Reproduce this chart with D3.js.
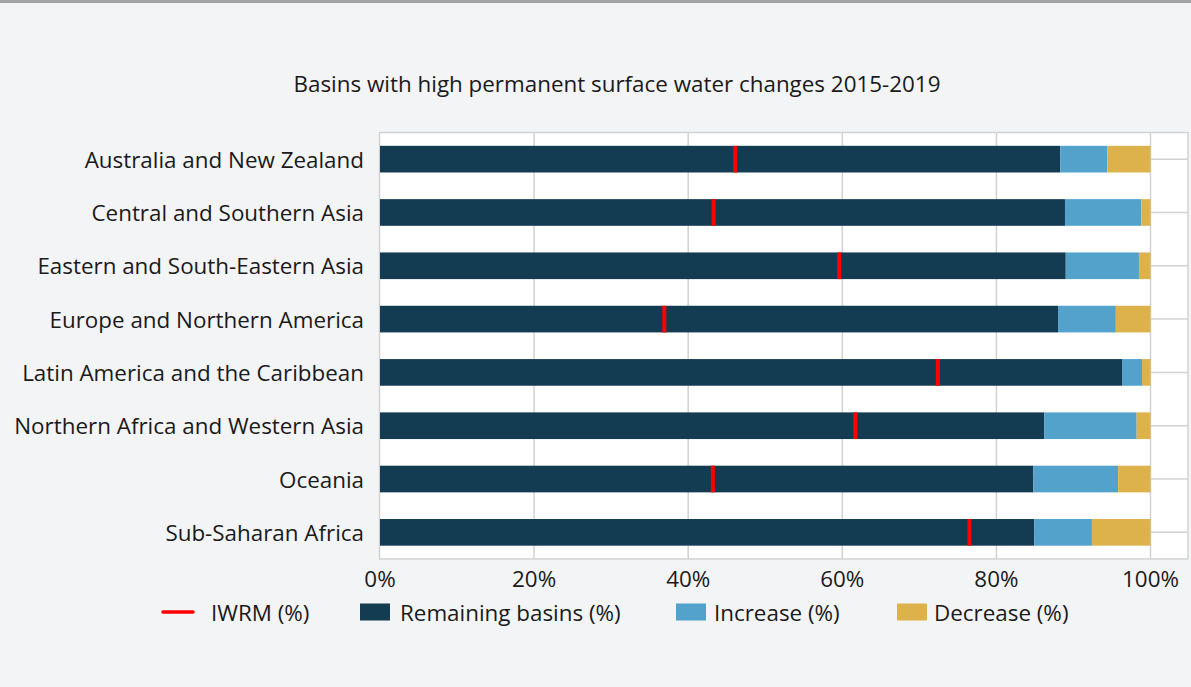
<!DOCTYPE html>
<html>
<head>
<meta charset="utf-8">
<script src="https://cdn.jsdelivr.net/npm/d3@7"></script>
<style>
  html, body { margin: 0; padding: 0; background: #f3f4f6; }
  svg { display: block; }
  text { font-family: "Open Sans", "Noto Sans", sans-serif; fill: #1a1a1a; }
</style>
</head>
<body>
<script>
const categories = [
  "Australia and New Zealand",
  "Central and Southern Asia",
  "Eastern and South-Eastern Asia",
  "Europe and Northern America",
  "Latin America and the Caribbean",
  "Northern Africa and Western Asia",
  "Oceania",
  "Sub-Saharan Africa"
];
const remaining = [88.3, 88.9, 89.0, 88.0, 96.3, 86.2, 84.8, 84.9];
const increase  = [6.1, 9.9, 9.5, 7.5, 2.6, 12.0, 11.0, 7.5];
const decrease  = [5.6, 1.2, 1.5, 4.5, 1.1, 1.8, 4.2, 7.6];
const iwrm      = [46.1, 43.3, 59.6, 36.9, 72.4, 61.7, 43.2, 76.5];
const xTicks    = [0, 20, 40, 60, 80, 100];
const tickLabels = ["0%", "20%", "40%", "60%", "80%", "100%"];
const seriesNames = ["Remaining basins (%)", "Increase (%)", "Decrease (%)"];
const seriesKeys = ["remaining", "increase", "decrease"];
const colors = ["#133b51", "#52a2cc", "#deb24a"];
const title = "Basins with high permanent surface water changes 2015-2019";

const W = 1191, H = 687;
const FS = 22.4;
const svg = d3.select("body").append("svg").attr("width", W).attr("height", H);

svg.append("rect").attr("x", 0).attr("y", 0).attr("width", W).attr("height", H).attr("fill", "#f3f4f6");
svg.append("rect").attr("x", 0).attr("y", 0).attr("width", W).attr("height", 3).attr("fill", "#a3a3a5");

const plotL = 379.5, plotR = 1188, plotT = 132.5, plotB = 559;
const x = d3.scaleLinear().domain([0, 100]).range([380, 1150.5]);
const y = d3.scaleBand().domain(categories).range([plotT, plotB]).paddingInner(0.5).paddingOuter(0.25);

// plot background
svg.append("rect").attr("x", plotL).attr("y", plotT).attr("width", plotR - plotL).attr("height", plotB - plotT)
  .attr("fill", "#ffffff").attr("stroke", "#d2d2d2").attr("stroke-width", 1.5);

// vertical gridlines
svg.append("g").selectAll("line").data(xTicks.slice(1)).join("line")
  .attr("x1", d => x(d)).attr("x2", d => x(d)).attr("y1", plotT).attr("y2", plotB)
  .attr("stroke", "#d2d2d2").attr("stroke-width", 1.5);
// horizontal gridlines at band centers
svg.append("g").selectAll("line").data(categories).join("line")
  .attr("x1", plotL).attr("x2", plotR)
  .attr("y1", d => y(d) + y.bandwidth() / 2).attr("y2", d => y(d) + y.bandwidth() / 2)
  .attr("stroke", "#d2d2d2").attr("stroke-width", 1.5);

// stacked data
const rows = categories.map((c, i) => ({ cat: c, remaining: remaining[i], increase: increase[i], decrease: decrease[i] }));
const stack = d3.stack().keys(seriesKeys)(rows);

svg.append("g").selectAll("g").data(stack).join("g")
  .attr("fill", (d, i) => colors[i])
  .selectAll("rect").data(d => d).join("rect")
  .attr("x", d => x(d[0]))
  .attr("width", d => Math.max(0, x(Math.min(100, d[1])) - x(d[0])))
  .attr("y", d => y(d.data.cat))
  .attr("height", y.bandwidth());

// IWRM markers
svg.append("g").selectAll("rect").data(categories).join("rect")
  .attr("x", (d, i) => x(iwrm[i]) - 2)
  .attr("width", 4)
  .attr("y", d => y(d))
  .attr("height", y.bandwidth())
  .attr("fill", "#ff0000");

// y-axis labels
svg.append("g").selectAll("text").data(categories).join("text")
  .attr("x", 364).attr("y", d => y(d) + y.bandwidth() / 2)
  .attr("text-anchor", "end").attr("dominant-baseline", "central")
  .attr("font-size", FS).text(d => d);

// x-axis tick labels
svg.append("g").selectAll("text").data(xTicks).join("text")
  .attr("x", d => x(d)).attr("y", 578)
  .attr("text-anchor", "middle").attr("dominant-baseline", "central")
  .attr("font-size", FS).attr("fill", "#333").text((d, i) => tickLabels[i]);

// title
svg.append("text").attr("x", 617).attr("y", 83)
  .attr("text-anchor", "middle").attr("dominant-baseline", "central")
  .attr("font-size", FS).text(title);

// legend
const legY = 612;
const leg = svg.append("g");
leg.append("line").attr("x1", 163).attr("x2", 193).attr("y1", legY).attr("y2", legY)
  .attr("stroke", "#ff0000").attr("stroke-width", 3.5).attr("stroke-linecap", "round");
leg.append("text").attr("x", 211).attr("y", legY).attr("dominant-baseline", "central").attr("font-size", FS).text("IWRM (%)");
const legX = [360, 676, 897];
const legTextX = [400, 714, 934];
seriesNames.forEach((n, i) => {
  leg.append("rect").attr("x", legX[i]).attr("y", legY - 8.5).attr("width", 30).attr("height", 17).attr("fill", colors[i]);
  leg.append("text").attr("x", legTextX[i]).attr("y", legY).attr("dominant-baseline", "central").attr("font-size", FS).text(n);
});
</script>
</body>
</html>
